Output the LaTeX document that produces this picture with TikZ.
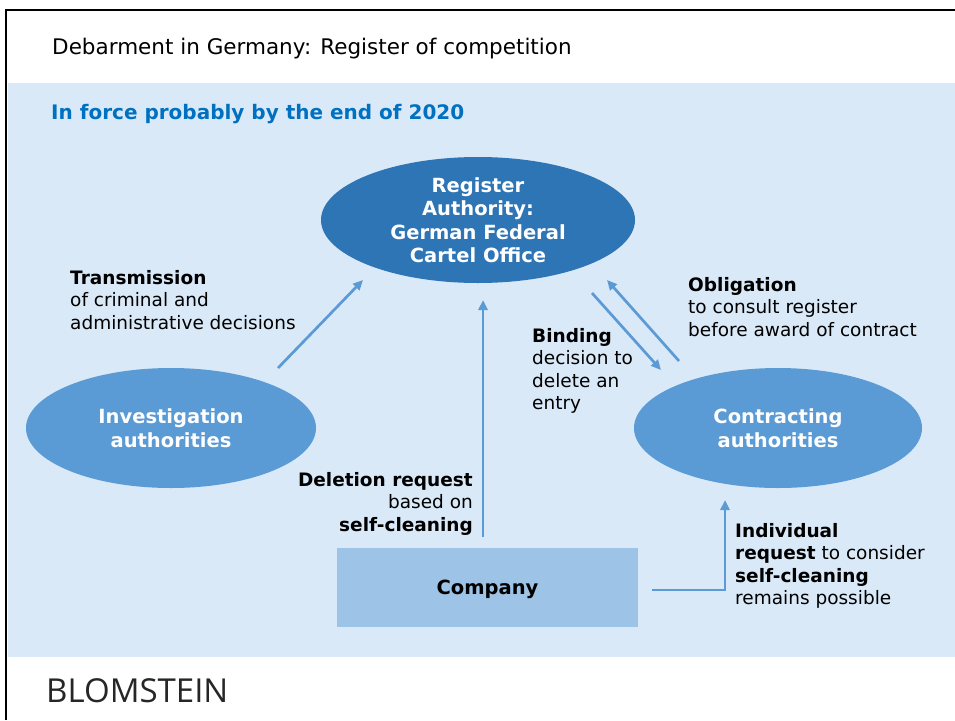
\documentclass[tikz,border=0pt]{standalone}
\usepackage{fontspec}
\setmainfont{DejaVu Sans}
\newfontfamily\logofont{Open Sans}
\usetikzlibrary{arrows.meta,shapes.geometric,positioning}

\definecolor{panelblue}{HTML}{DAE9F8}
\definecolor{regblue}{HTML}{2E75B6}
\definecolor{authblue}{HTML}{5B9BD5}
\definecolor{companyblue}{HTML}{9DC3E6}
\definecolor{headblue}{HTML}{0070C0}

\begin{document}
\begin{tikzpicture}[x=1pt,y=-1pt]

	\tikzstyle{authority} = [
		ellipse,
		fill=authblue,
		text=white,
		align=center,
		inner sep=-10pt,
		font=\bfseries\fontsize{19.5}{23.5}\selectfont
	]
	\tikzstyle{label} = [
		inner sep=0pt,
		align=left,
		anchor=north west,
		font=\fontsize{18.5}{22.5}\selectfont
	]
	\tikzstyle{flow} = [
		draw=authblue,
		line width=2.7pt,
		-{Triangle[length=10pt,width=9pt]}
	]

	\useasboundingbox (0,0) rectangle (955,720);
	\fill[panelblue] (8,83) rectangle (955,657);
	\draw[line width=2.5pt] (6,720) -- (6,10) -- (955,10);

	\node (title) [anchor=base west, inner sep=0pt, font=\fontsize{21.5}{24}\selectfont] at (52,54.5) {Debarment in Germany: Register of competition};
	\node (subtitle) [anchor=base west, inner sep=0pt, text=headblue, font=\bfseries\fontsize{20}{24}\selectfont] at (51,119) {In force probably by the end of 2020};

	\node (reg) [style=authority, fill=regblue, minimum width=314pt, minimum height=126pt] at (478,220) {Register\\Authority:\\German Federal\\Cartel Office};
	\node (inv) [style=authority, minimum width=290pt, minimum height=120pt] at (171,428) {Investigation\\authorities};
	\node (con) [style=authority, minimum width=288pt, minimum height=120pt] at (778,428) {Contracting\\authorities};
	\node (company) [fill=companyblue, minimum width=301pt, minimum height=79pt, text depth=0pt, font=\bfseries\fontsize{19.5}{23.5}\selectfont] at (487.5,587.5) {Company};

	\node (transLbl) [style=label] at (70,270) {\textbf{Transmission}\\of criminal and\\administrative decisions};
	\node (obligLbl) [style=label] at (688,277) {\textbf{Obligation}\\to consult register\\before award of contract};
	\node (bindLbl) [style=label] at (532,328) {\textbf{Binding}\\decision to\\delete an\\entry};
	\node (delLbl) [style=label, align=right, anchor=north east] at (473,472) {\textbf{Deletion request}\\based on\\\textbf{self-cleaning}};
	\node (indivLbl) [style=label] at (735,523) {\textbf{Individual}\\\textbf{request} to consider\\\textbf{self-cleaning}\\remains possible};

	\coordinate (trans0) at (278,368);
	\coordinate (trans1) at (363,280);
	\coordinate (del0) at (483,537);
	\coordinate (del1) at (483,300);
	\coordinate (bind0) at (592,293);
	\coordinate (bind1) at (661,370);
	\coordinate (oblig0) at (679,361);
	\coordinate (oblig1) at (607,280);
	\coordinate (indiv0) at (652,590);
	\coordinate (indiv1) at (725,500);

	\draw [style=flow] (trans0) -- (trans1);
	\draw [style=flow] (del0) -- (del1);
	\draw [style=flow] (bind0) -- (bind1);
	\draw [style=flow] (oblig0) -- (oblig1);
	\draw [style=flow] (indiv0) -| (indiv1);

	\node (logo) [anchor=base west, inner sep=0pt, font=\logofont\fontsize{33}{36}\selectfont, text=black!85] at (46,702) {BLOMSTEIN};

\end{tikzpicture}
\end{document}
